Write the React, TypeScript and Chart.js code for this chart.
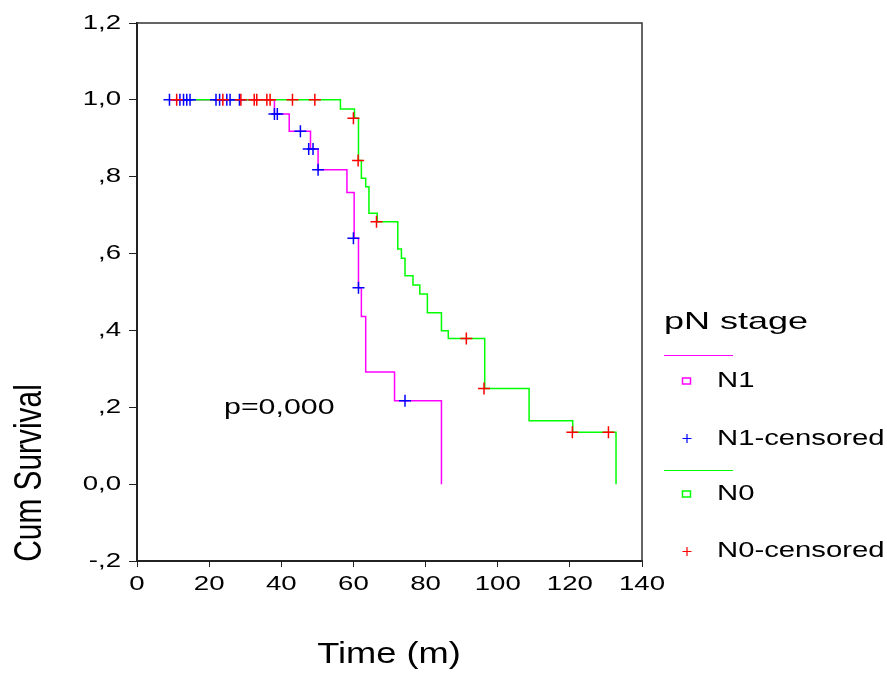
import React, { useEffect, useRef } from 'react';
import { Chart, registerables } from 'chart.js';
Chart.register(...registerables);

// Kaplan-Meier step curves (time in months, cumulative survival)
const n1Times = [9.0, 38.1, 42.2, 48.1, 50.2, 58.2, 60.2, 61.4, 62.2, 63.4, 71.4, 84.4];
const n1Surv = [1.0, 0.963, 0.918, 0.872, 0.818, 0.759, 0.640, 0.511, 0.436, 0.292, 0.217, 0.0];
const n0Times = [11.0, 56.4, 60.3, 61.4, 62.2, 63.4, 64.3, 66.6, 72.3, 73.3, 74.3, 76.5, 78.4, 80.5, 84.4, 86.3, 96.4, 108.7, 120.8, 132.8];
const n0Surv = [1.0, 0.976, 0.952, 0.842, 0.796, 0.774, 0.705, 0.683, 0.612, 0.588, 0.542, 0.518, 0.495, 0.446, 0.399, 0.379, 0.249, 0.165, 0.135, 0.0];

// Censored observations
const n1CensTimes = [9.0, 11.9, 12.9, 13.8, 14.7, 21.9, 22.9, 24.9, 25.8, 28.4, 38.1, 38.9, 45.3, 47.6, 48.8, 50.2, 60.0, 61.4, 74.3];
const n1CensSurv = [1, 1, 1, 1, 1, 1, 1, 1, 1, 1, 0.963, 0.963, 0.918, 0.872, 0.872, 0.818, 0.640, 0.511, 0.217];
const n0CensTimes = [11.0, 23.8, 28.8, 32.5, 33.2, 36.0, 36.9, 43.1, 49.3, 60.0, 61.3, 66.4, 91.3, 96.2, 120.7, 130.7];
const n0CensSurv = [1, 1, 1, 1, 1, 1, 1, 1, 1, 0.952, 0.842, 0.683, 0.379, 0.249, 0.135, 0.135];

const xTickValues = [0, 20, 40, 60, 80, 100, 120, 140];
const xTickLabels = ['0', '20', '40', '60', '80', '100', '120', '140'];
const yTickValues = [-0.2, 0, 0.2, 0.4, 0.6, 0.8, 1.0, 1.2];
const yTickLabels = ['-,2', '0,0', ',2', ',4', ',6', ',8', '1,0', '1,2'];

const xTitle = 'Time (m)';
const yTitle = 'Cum Survival';
const pText = 'p=0,000';
const legendTitle = 'pN stage';
const legendLabels = ['N1', 'N1-censored', 'N0', 'N0-censored'];

const MAGENTA = '#ff00ff';
const GREEN = '#00ff00';
const BLUE = '#0000ff';
const RED = '#ff0000';
const FAM = '"Liberation Sans", Arial, sans-serif';

const textPlugin = {
  id: 'spssText',
  afterDraw(chart: any) {
    const ctx: CanvasRenderingContext2D = chart.ctx;
    const xs = chart.scales.x;
    const ys = chart.scales.y;
    const { left, right, top, bottom } = chart.chartArea;
    ctx.save();
    // frame top & right
    ctx.strokeStyle = '#333';
    ctx.lineWidth = 1.5;
    ctx.beginPath();
    ctx.moveTo(left, top);
    ctx.lineTo(right, top);
    ctx.lineTo(right, bottom);
    ctx.stroke();

    const draw = (text: string, x: number, y: number, size: number, sx: number, align: string) => {
      ctx.save();
      ctx.font = `${size}px ${FAM}`;
      ctx.textBaseline = 'middle';
      ctx.textAlign = 'left';
      ctx.fillStyle = '#000';
      const w = ctx.measureText(text).width * sx;
      const x0 = align === 'left' ? x : align === 'right' ? x - w : x - w / 2;
      ctx.translate(x0, y);
      ctx.scale(sx, 1);
      ctx.fillText(text, 0, 0);
      ctx.restore();
    };

    yTickValues.forEach((v, i) => draw(yTickLabels[i], left - 16, ys.getPixelForValue(v), 20, 1.38, 'right'));
    xTickValues.forEach((v, i) => draw(xTickLabels[i], xs.getPixelForValue(v), bottom + 23, 20, 1.38, 'center'));

    draw(xTitle, 389, 655, 29, 1.25, 'center');

    // y title rotated
    ctx.save();
    ctx.font = `29px ${FAM}`;
    ctx.fillStyle = '#000';
    ctx.textAlign = 'center';
    ctx.textBaseline = 'middle';
    ctx.translate(30, 473);
    ctx.rotate(-Math.PI / 2);
    ctx.scale(1.03, 1.35);
    ctx.fillText(yTitle, 0, 0);
    ctx.restore();

    draw(pText, 224, 408, 22, 1.38, 'left');

    // legend
    draw(legendTitle, 664, 322, 24, 1.5, 'left');
    ctx.lineWidth = 1;
    ctx.strokeStyle = MAGENTA;
    ctx.beginPath(); ctx.moveTo(664, 355.5); ctx.lineTo(733, 355.5); ctx.stroke();
    ctx.strokeStyle = GREEN;
    ctx.beginPath(); ctx.moveTo(664, 470.5); ctx.lineTo(733, 470.5); ctx.stroke();

    ctx.lineWidth = 1.5;
    ctx.strokeStyle = MAGENTA;
    ctx.strokeRect(682.5, 378, 8, 6);
    ctx.strokeStyle = GREEN;
    ctx.strokeRect(682.5, 491, 8, 6);

    const cross = (cx: number, cy: number, col: string) => {
      ctx.strokeStyle = col;
      ctx.lineWidth = 1.2;
      ctx.beginPath();
      ctx.moveTo(cx - 4.5, cy); ctx.lineTo(cx + 4.5, cy);
      ctx.moveTo(cx, cy - 4.5); ctx.lineTo(cx, cy + 4.5);
      ctx.stroke();
    };
    cross(687, 438.5, BLUE);
    cross(687, 551.5, RED);

    const itemY = [381, 438.5, 494, 551];
    legendLabels.forEach((l, i) => draw(l, 717, itemY[i], 22, 1.33, 'left'));

    ctx.restore();
  },
};

function pts(xs: number[], ys: number[]) {
  return xs.map((x, i) => ({ x, y: ys[i] }));
}

export default function App() {
  const ref = useRef<HTMLCanvasElement | null>(null);
  useEffect(() => {
    if (!ref.current) return;
    const chart = new Chart(ref.current, {
      type: 'scatter',
      data: {
        datasets: [
          {
            label: 'N0-censored',
            data: pts(n0CensTimes, n0CensSurv),
            pointStyle: 'cross',
            pointRadius: 6,
            pointBorderWidth: 1.5,
            borderColor: RED,
            backgroundColor: RED,
            showLine: false,
          },
          {
            label: 'N1-censored',
            data: pts(n1CensTimes, n1CensSurv),
            pointStyle: 'cross',
            pointRadius: 6,
            pointBorderWidth: 1.5,
            borderColor: BLUE,
            backgroundColor: BLUE,
            showLine: false,
          },
          {
            label: 'N0',
            data: pts(n0Times, n0Surv),
            showLine: true,
            stepped: 'before',
            borderColor: GREEN,
            backgroundColor: GREEN,
            borderWidth: 1.5,
            pointRadius: 0,
            fill: false,
          },
          {
            label: 'N1',
            data: pts(n1Times, n1Surv),
            showLine: true,
            stepped: 'before',
            borderColor: MAGENTA,
            backgroundColor: MAGENTA,
            borderWidth: 1.5,
            pointRadius: 0,
            fill: false,
          },
        ],
      } as any,
      options: {
        animation: false,
        responsive: false,
        events: [],
        layout: { padding: { left: 0, top: 23, right: 245, bottom: 0 } },
        plugins: { legend: { display: false }, tooltip: { enabled: false } },
        scales: {
          x: {
            type: 'linear',
            min: 0,
            max: 140,
            ticks: { stepSize: 20, display: false },
            grid: { drawOnChartArea: false, drawTicks: true, tickLength: 6, color: '#222' },
            border: { color: '#222', width: 2 },
            afterFit: (s: any) => { s.height = 112; },
          },
          y: {
            type: 'linear',
            min: -0.2,
            max: 1.2,
            ticks: { stepSize: 0.2, display: false },
            grid: { drawOnChartArea: false, drawTicks: true, tickLength: 8, color: '#222' },
            border: { color: '#222', width: 2 },
            afterFit: (s: any) => { s.width = 137; },
          },
        },
      } as any,
      plugins: [textPlugin],
    });
    return () => chart.destroy();
  }, []);
  return (
    <div style={{ position: 'fixed', left: 0, top: 0, width: 887, height: 673, background: '#fff' }}>
      <canvas ref={ref} width={887} height={673} style={{ display: 'block', width: 887, height: 673 }} />
    </div>
  );
}
